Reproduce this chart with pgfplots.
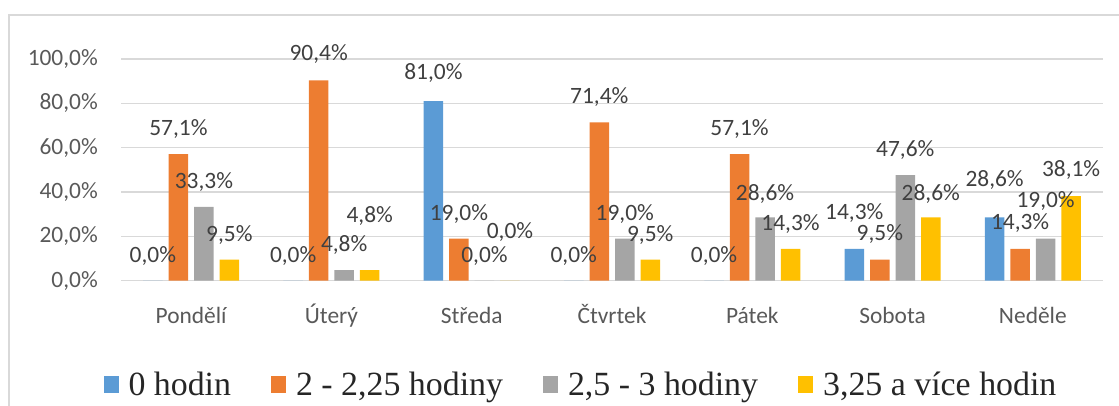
\documentclass[border=0pt]{standalone}
\usepackage{fontspec}
\setmainfont{Carlito}
\newfontfamily\legfont{Liberation Serif}
\usepackage{pgfplots}
\usepackage{pgfplotstable}
\pgfplotsset{compat=1.18}
\definecolor{cb}{HTML}{5B9BD5}
\definecolor{co}{HTML}{ED7D31}
\definecolor{cg}{HTML}{A5A5A5}
\definecolor{cy}{HTML}{FFC000}
\definecolor{gridc}{HTML}{D9D9D9}
\definecolor{labc}{HTML}{595959}
\definecolor{txtc}{HTML}{404040}
\pgfplotstableread{
x b o g y db do dg dy
0 0 57.1 33.3 9.5 0 0 0 0
1 0 90.4 4.8 4.8 0 1 0 29
2 81.0 19.0 0.0 0.0 3 0 0 24
3 0 71.4 19.0 9.5 0 0 0 0
4 0 57.1 28.6 14.3 0 0 -2 0
5 14.3 9.5 47.6 28.6 11 1 0 -2
6 28.6 14.3 19.0 38.1 12 1 13 1
}\data
\begin{document}
\begin{tikzpicture}
\useasboundingbox (0bp,0bp) rectangle (1119bp,406bp);
\draw[color=gridc, line width=1.5bp] (9bp,0bp) -- (9bp,391bp) -- (1119bp,391bp);
\begin{axis}[
  at={(121bp,125.3bp)}, anchor=south west,
  width=982bp, height=221.7bp, scale only axis,
  xmin=-0.5, xmax=6.5, ymin=0, ymax=100,
  /pgf/number format/assume math mode=true,
  ybar=6bp, bar width=19.5bp,
  legend image code/.code={\fill[#1] (0bp,-8.5bp) rectangle (15bp,8.5bp); \path (23bp,0bp);},
  xtick={0,...,6},
  xticklabels={Pondělí,Úterý,Středa,Čtvrtek,Pátek,Sobota,Neděle},
  ytick={0,20,40,60,80,100},
  yticklabels={{0,0\%},{20,0\%},{40,0\%},{60,0\%},{80,0\%},{100,0\%}},
  ymajorgrids, grid style={color=gridc, line width=1.2bp},
  axis line style={draw=none}, major tick length=0pt,
  tick label style={font=\fontsize{23.5}{26}\selectfont, text=labc},
  yticklabel style={inner sep=0pt, xshift=-23bp},
  xticklabel style={anchor=base, inner sep=0pt, yshift=-43bp},
  clip=false,
  nodes near coords={\pgfmathprintnumber[fixed,fixed zerofill,precision=1,use comma,assume math mode=true]{\pgfplotspointmeta}\%},
  nodes near coords align={center},
  nodes near coords style={font=\fontsize{23.5}{26}\selectfont, text=txtc, anchor=center, yshift=25bp+\dd bp},
  legend style={at={(0.4684,-0.47)}, anchor=center, draw=none, fill=none,
    font=\legfont\fontsize{34}{40}\selectfont, text=black!85, legend columns=4,
    /tikz/every even column/.append style={column sep=38bp}},
]
\addplot[fill=cb, draw=none, visualization depends on={\thisrow{db} \as \dd}] table[x=x,y=b] {\data};
\addplot[fill=co, draw=none, visualization depends on={\thisrow{do} \as \dd}] table[x=x,y=o] {\data};
\addplot[fill=cg, draw=none, visualization depends on={\thisrow{dg} \as \dd}] table[x=x,y=g] {\data};
\addplot[fill=cy, draw=none, visualization depends on={\thisrow{dy} \as \dd}] table[x=x,y=y] {\data};
\legend{0 hodin,{2 - 2,25 hodiny},{2,5 - 3 hodiny},{3,25 a více hodin}}
\end{axis}
\end{tikzpicture}
\end{document}
